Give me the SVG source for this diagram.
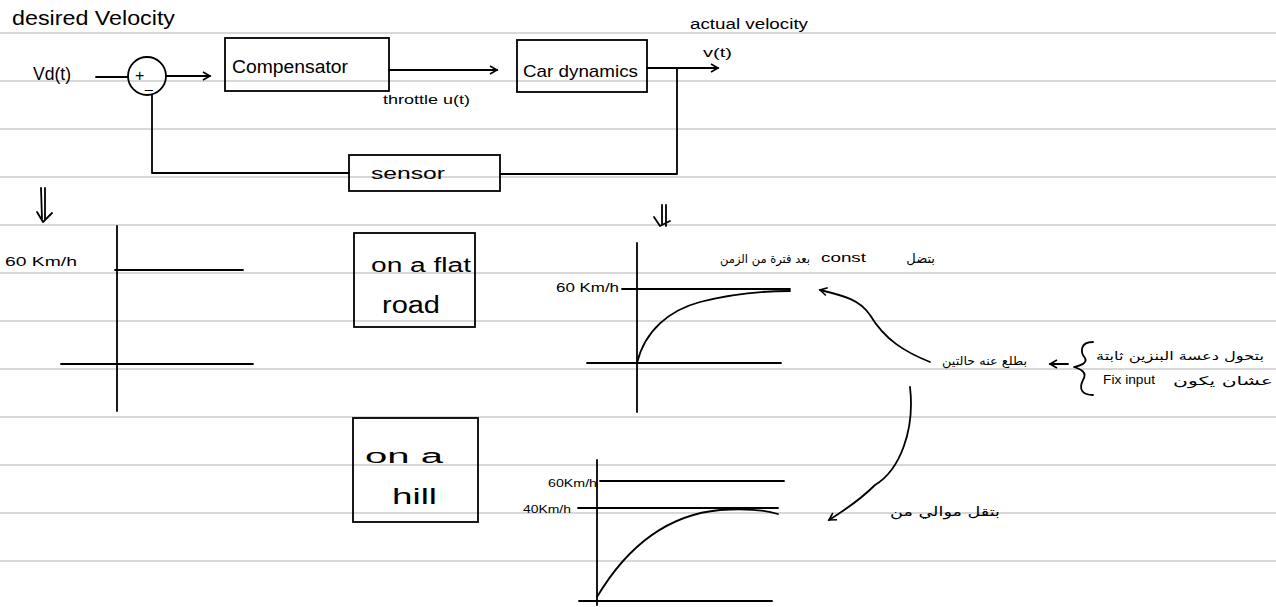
<svg xmlns="http://www.w3.org/2000/svg" width="1276" height="607" viewBox="0 0 1276 607">
<defs>
<style>
.rule{stroke:#d8d8d8;stroke-width:2}
.ln{stroke:#000;stroke-width:1.8;fill:none;stroke-linecap:round;stroke-linejoin:round}
.box{stroke:#000;stroke-width:1.8;fill:none}
.t{font-family:"Liberation Sans",Arial,sans-serif;fill:#000}
.ar{font-family:"DejaVu Sans","Noto Sans",sans-serif;fill:#000;text-anchor:end}
</style>
<marker id="open" markerWidth="10" markerHeight="10" refX="8" refY="5" orient="auto" markerUnits="userSpaceOnUse">
<path d="M1,1 L8,5 L1,9" fill="none" stroke="#000" stroke-width="1.6"/>
</marker>
</defs>
<rect width="1276" height="607" fill="#fff"/>
<g id="rules">
<line class="rule" x1="0" y1="33" x2="1276" y2="33"/>
<line class="rule" x1="0" y1="81" x2="1276" y2="81"/>
<line class="rule" x1="0" y1="129" x2="1276" y2="129"/>
<line class="rule" x1="0" y1="177" x2="1276" y2="177"/>
<line class="rule" x1="0" y1="225" x2="1276" y2="225"/>
<line class="rule" x1="0" y1="273" x2="1276" y2="273"/>
<line class="rule" x1="0" y1="321" x2="1276" y2="321"/>
<line class="rule" x1="0" y1="369" x2="1276" y2="369"/>
<line class="rule" x1="0" y1="417" x2="1276" y2="417"/>
<line class="rule" x1="0" y1="465" x2="1276" y2="465"/>
<line class="rule" x1="0" y1="513" x2="1276" y2="513"/>
<line class="rule" x1="0" y1="561" x2="1276" y2="561"/>
</g>
<text class="t" x="12" y="25" font-size="21" textLength="163" lengthAdjust="spacingAndGlyphs">desired Velocity</text>
<text class="t" x="33" y="80" font-size="18" textLength="38" lengthAdjust="spacingAndGlyphs">Vd(t)</text>
<g id="sum">
<circle cx="147" cy="76" r="19" class="box"/>
<text class="t" x="135" y="81" font-size="16">+</text>
<text class="t" x="145" y="88" font-size="14">_</text>
</g>
<g id="compensator">
<rect x="225" y="38" width="164" height="53" class="box"/>
<text class="t" x="232" y="73" font-size="18" textLength="116" lengthAdjust="spacingAndGlyphs">Compensator</text>
</g>
<g id="car">
<rect x="517" y="40" width="130" height="52" class="box"/>
<text class="t" x="523" y="77" font-size="17" textLength="115" lengthAdjust="spacingAndGlyphs">Car dynamics</text>
</g>
<g id="sensor">
<rect x="349" y="155" width="151" height="36" class="box"/>
<text class="t" x="371" y="179" font-size="17" textLength="74" lengthAdjust="spacingAndGlyphs">sensor</text>
</g>
<g id="connectors">
<line class="ln" x1="96" y1="77" x2="128" y2="77"/>
<line class="ln" x1="166" y1="76" x2="210" y2="76" marker-end="url(#open)"/>
<line class="ln" x1="389" y1="70" x2="497" y2="70" marker-end="url(#open)"/>
<line class="ln" x1="647" y1="68" x2="718" y2="68" marker-end="url(#open)"/>
<polyline class="ln" points="677,68 677,174 500,174"/>
<polyline class="ln" points="349,173 152,173 152,95"/>
</g>
<text class="t" x="383" y="104" font-size="12" textLength="87" lengthAdjust="spacingAndGlyphs">throttle u(t)</text>
<text class="t" x="690" y="29" font-size="14" textLength="118" lengthAdjust="spacingAndGlyphs">actual velocity</text>
<text class="t" x="703" y="57" font-size="12" textLength="29" lengthAdjust="spacingAndGlyphs">v(t)</text>
<g id="dblarrow1">
<path class="ln" d="M41,188 L42,219 M45,188 L45,219 M37,212 L43,222 L52,213"/>
</g>
<g id="graph1">
<line class="ln" x1="117" y1="226" x2="117" y2="411"/>
<line class="ln" x1="61" y1="364" x2="253" y2="364"/>
<line class="ln" x1="115" y1="270" x2="243" y2="270"/>
<text class="t" x="5" y="266" font-size="13" textLength="72" lengthAdjust="spacingAndGlyphs">60 Km/h</text>
</g>
<g id="flat">
<rect x="354" y="233" width="121" height="94" class="box"/>
<text class="t" x="371" y="272" font-size="20" textLength="100" lengthAdjust="spacingAndGlyphs">on a flat</text>
<text class="t" x="382" y="313" font-size="23" textLength="58" lengthAdjust="spacingAndGlyphs">road</text>
</g>
<g id="hill">
<rect x="353" y="418" width="125" height="104" class="box"/>
<text class="t" x="365" y="463" font-size="20" textLength="78" lengthAdjust="spacingAndGlyphs">on  a</text>
<text class="t" x="392" y="504" font-size="22" textLength="45" lengthAdjust="spacingAndGlyphs">hill</text>
</g>
<g id="dblarrow2">
<path class="ln" d="M662,205 L662,224 M666,205 L666,226 M654,217 L660,226 L670,221"/>
</g>
<g id="graph2">
<line class="ln" x1="637" y1="243" x2="637" y2="412"/>
<line class="ln" x1="587" y1="363" x2="781" y2="363"/>
<line class="ln" x1="622" y1="289" x2="790" y2="289"/>
<path class="ln" d="M637,363 C645,330 670,310 700,302 C735,293 765,291 790,291"/>
<text class="t" x="556" y="292" font-size="12" textLength="63" lengthAdjust="spacingAndGlyphs">60 Km/h</text>
</g>
<text class="ar" x="935" y="263" font-size="13">بتضل</text>
<text class="t" x="821" y="262" font-size="13" textLength="45" lengthAdjust="spacingAndGlyphs">const</text>
<text class="ar" x="810" y="263" font-size="12" textLength="90" lengthAdjust="spacingAndGlyphs">بعد فترة من الزمن</text>
<g id="arrows">
<path class="ln" d="M930,362 C905,352 885,340 870,315 C860,300 845,296 820,290" marker-end="url(#open)"/>
<path class="ln" d="M910,387 C915,430 900,470 875,485 C860,500 845,510 829,520" marker-end="url(#open)"/>
<path class="ln" d="M1068,364 L1050,364" marker-end="url(#open)"/>
<path class="ln" d="M1093,342 C1080,342 1080,352 1085,358 C1088,364 1078,366 1074,367 C1080,369 1088,372 1083,380 C1078,390 1083,395 1093,395"/>
</g>
<text class="ar" x="1027" y="365" font-size="12" textLength="85" lengthAdjust="spacingAndGlyphs">بطلع عنه حالتين</text>
<text class="ar" x="1264" y="360" font-size="12" textLength="168" lengthAdjust="spacingAndGlyphs">بتحول دعسة البنزين ثابتة</text>
<text class="t" x="1103" y="384" font-size="12" textLength="52" lengthAdjust="spacingAndGlyphs">Fix input</text>
<text class="ar" x="1273" y="385" font-size="12" textLength="100" lengthAdjust="spacingAndGlyphs">عشان يكون</text>
<g id="graph3">
<line class="ln" x1="597" y1="460" x2="597" y2="605"/>
<line class="ln" x1="579" y1="601" x2="772" y2="601"/>
<line class="ln" x1="600" y1="481" x2="784" y2="481"/>
<line class="ln" x1="578" y1="508" x2="778" y2="508"/>
<path class="ln" d="M597,597 C625,550 665,515 720,510 C750,508 765,510 778,514"/>
<text class="t" x="548" y="487" font-size="11" textLength="49" lengthAdjust="spacingAndGlyphs">60Km/h</text>
<text class="t" x="523" y="513" font-size="11" textLength="48" lengthAdjust="spacingAndGlyphs">40Km/h</text>
</g>
<text class="ar" x="1000" y="516" font-size="13" textLength="110" lengthAdjust="spacingAndGlyphs">بتقل موالي من</text>
</svg>
